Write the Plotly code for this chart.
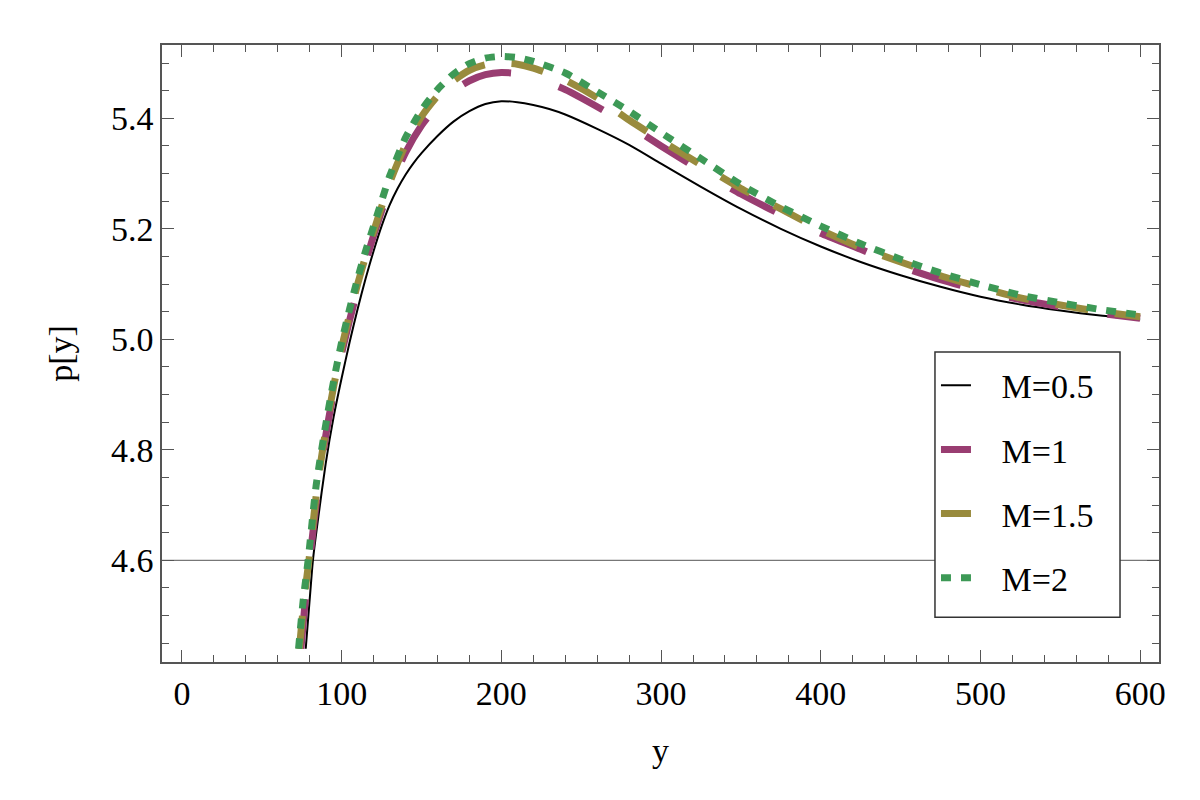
import plotly.graph_objects as go

# p[y] curves, one per value of M
x_m05 = [77.5, 80, 82, 85, 90, 95, 100, 105, 110, 115, 120, 125, 130, 135, 140, 145, 150, 160, 170,
         180, 190, 200, 210, 220, 230, 240, 260, 280, 300, 325, 350, 375, 400, 425, 450, 475, 500,
         525, 550, 575, 600]
p_m05 = [4.44, 4.53, 4.60, 4.67, 4.775, 4.86, 4.93, 4.995, 5.055, 5.11, 5.16, 5.205, 5.243, 5.273,
         5.298, 5.319, 5.337, 5.368, 5.394, 5.413, 5.426, 5.431, 5.429, 5.424, 5.417, 5.407, 5.381,
         5.352, 5.318, 5.276, 5.236, 5.200, 5.168, 5.140, 5.116, 5.095, 5.077, 5.063, 5.052, 5.043,
         5.036]

x_m1 = [74.5, 77, 80, 85, 90, 95, 100, 105, 110, 115, 120, 125, 130, 140, 150, 160, 170, 180, 190,
        200, 210, 220, 240, 260, 280, 300, 325, 350, 375, 400, 425, 450, 475, 500, 525, 550, 575, 600]
p_m1 = [4.44, 4.52, 4.60, 4.725, 4.825, 4.905, 4.975, 5.035, 5.09, 5.14, 5.188, 5.232, 5.272, 5.338,
        5.387, 5.423, 5.450, 5.468, 5.479, 5.483, 5.481, 5.475, 5.452, 5.421, 5.387, 5.350, 5.305,
        5.263, 5.226, 5.192, 5.163, 5.132, 5.108, 5.088, 5.072, 5.059, 5.047, 5.038]

x_m15 = [73.5, 76.5, 79.5, 85, 90, 95, 100, 105, 110, 115, 120, 125, 130, 140, 150, 160, 170, 180, 190,
         200, 210, 220, 240, 260, 280, 300, 325, 350, 375, 400, 425, 450, 475, 500, 525, 550, 575, 600]
p_m15 = [4.44, 4.53, 4.60, 4.74, 4.835, 4.915, 4.985, 5.045, 5.10, 5.15, 5.195, 5.24, 5.283, 5.352,
         5.403, 5.440, 5.468, 5.487, 5.497, 5.500, 5.498, 5.491, 5.469, 5.437, 5.397, 5.360, 5.316,
         5.273, 5.236, 5.198, 5.166, 5.140, 5.115, 5.094, 5.075, 5.062, 5.050, 5.041]

x_m2 = [73, 76, 79, 84, 90, 95, 100, 105, 110, 115, 120, 125, 130, 140, 150, 160, 170, 180, 190,
        200, 210, 220, 240, 260, 280, 300, 325, 350, 375, 400, 425, 450, 475, 500, 525, 550, 575, 600]
p_m2 = [4.44, 4.53, 4.60, 4.735, 4.845, 4.925, 4.995, 5.055, 5.11, 5.16, 5.205, 5.25, 5.295, 5.365,
        5.415, 5.452, 5.480, 5.499, 5.509, 5.512, 5.510, 5.503, 5.482, 5.448, 5.413, 5.374, 5.327,
        5.280, 5.240, 5.205, 5.173, 5.145, 5.120, 5.099, 5.080, 5.066, 5.054, 5.044]

series = [
    ("M=0.5", x_m05, p_m05, "black", 2, "solid"),
    ("M=1", x_m1, p_m1, "#993D71", 7, "50px,50px"),
    ("M=1.5", x_m15, p_m15, "#998B3D", 7, "33px,27px"),
    ("M=2", x_m2, p_m2, "#3D9956", 7, "10px,10px"),
]

FONT = "Liberation Serif"
FRAME = "#555555"
NB = "\u00a0"

fig = go.Figure()
for i, (name, xs, ps, color, width, dash) in enumerate(series):
    fig.add_trace(go.Scatter(
        x=xs, y=ps, name=NB * 3 + name, mode="lines", legendgroup=str(i),
        line=dict(color=color, width=width, dash=dash, shape="spline", smoothing=0.6),
    ))

axis_common = dict(
    showline=True, mirror="allticks", linecolor=FRAME, linewidth=1.5,
    ticks="inside", ticklen=12, tickcolor=FRAME, tickwidth=1.2,
    showgrid=False, zeroline=False,
    tickfont=dict(family=FONT, size=34, color="black"),
    minor=dict(ticks="inside", ticklen=7, tickcolor=FRAME, tickwidth=1),
)

fig.update_xaxes(
    range=[-12.5, 611.8], dtick=100, tick0=0, minor_dtick=20,
    title=dict(text="y", font=dict(family=FONT, size=34), standoff=28),
    **axis_common,
)
fig.update_yaxes(
    range=[4.416, 5.5327], dtick=0.2, tick0=4.6, minor_dtick=0.05, tickformat=".1f",
    title=dict(text="p[y]", font=dict(family=FONT, size=34), standoff=28),
    **axis_common,
)

# axis line at p = 4.6 and the legend frame
fig.add_shape(type="line", xref="paper", yref="y", x0=0, x1=1, y0=4.6, y1=4.6,
              line=dict(color="#777777", width=1.2), layer="below")
fig.add_shape(type="rect", xref="paper", yref="paper", x0=0.7753, x1=0.9609, y0=0.0725, y1=0.5024,
              line=dict(color="#333333", width=1.5), fillcolor="white", layer="above")

# page body adds an 8px margin, so the figure is 8px smaller than the window
fig.update_layout(
    width=1192, height=792,
    margin=dict(l=154, r=41, t=37, b=138),
    paper_bgcolor="white", plot_bgcolor="white",
    font=dict(family=FONT, size=34, color="black"),
    showlegend=True,
    legend=dict(
        x=0.7763, y=0.495, xanchor="left", yanchor="top",
        bgcolor="rgba(0,0,0,0)", borderwidth=0,
        font=dict(family=FONT, size=34), tracegroupgap=17,
    ),
)

fig.write_html("out.html")
